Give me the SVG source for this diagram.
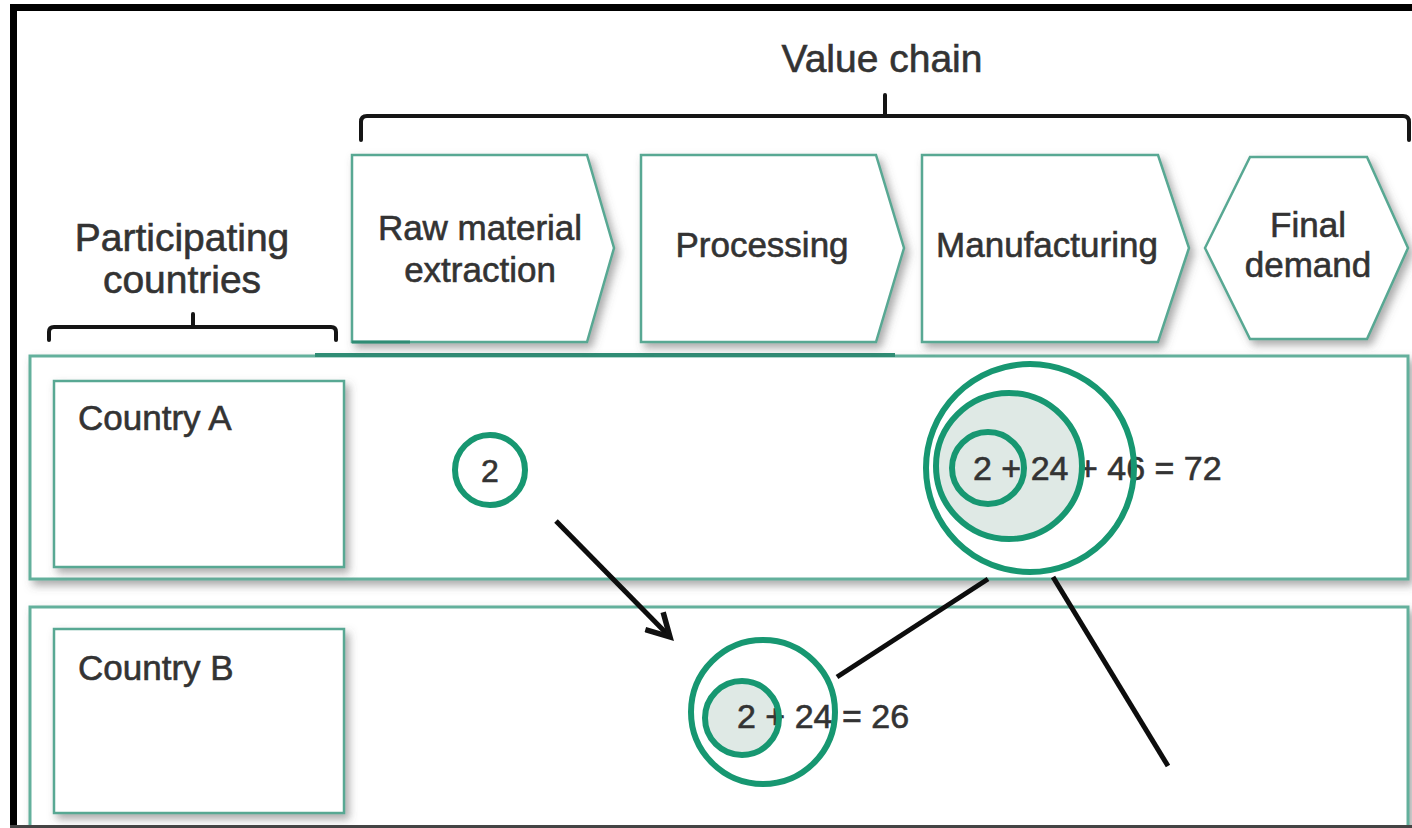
<svg xmlns="http://www.w3.org/2000/svg" width="1412" height="828" viewBox="0 0 1412 828">
  <defs>
    <filter id="shadow" x="-10%" y="-10%" width="125%" height="130%">
      <feDropShadow dx="4" dy="5" stdDeviation="4.5" flood-color="#555" flood-opacity="0.5"/>
    </filter>
    <marker id="arrowOpen" viewBox="0 0 12 12" refX="10" refY="6" markerWidth="6" markerHeight="6" orient="auto" markerUnits="strokeWidth">
      <path d="M1,1 L10,6 L1,11" fill="none" stroke="#111" stroke-width="2.2" stroke-linejoin="miter"/>
    </marker>
  </defs>
  <style>
    .lbl { font-family: "Liberation Sans", Arial, sans-serif; fill: #333333; stroke: #333333; stroke-width: 0.6; }
    .hdr { font-size: 39px; }
    .box { font-size: 35px; }
    .num { font-size: 34px; }
    .shape { fill: #ffffff; stroke: #58a893; stroke-width: 2.5; }
    .row { fill: #ffffff; stroke: #64b09c; stroke-width: 3; }
    .ring { fill: none; stroke: #179771; stroke-width: 6; }
    .core { fill: #dfe9e5; stroke: none; }
    .brace { fill: none; stroke: #151515; stroke-width: 4; stroke-linecap: round; stroke-linejoin: round; }
    .conn { fill: none; stroke: #0d0d0d; stroke-width: 5; }
  </style>

  <rect x="0" y="0" width="1412" height="828" fill="#ffffff"/>

  <!-- rows -->
  <g id="row-a">
    <rect class="row" x="30" y="356" width="1378" height="223" filter="url(#shadow)"/>
    <line x1="315" y1="355" x2="895" y2="355" stroke="#2f8c74" stroke-width="4"/>
  </g>
  <g id="row-b">
    <rect class="row" x="30" y="607" width="1378" height="260" filter="url(#shadow)"/>
  </g>

  <!-- headers -->
  <g id="value-chain-label">
    <text class="lbl hdr" x="882" y="72" text-anchor="middle">Value chain</text>
    <path class="brace" d="M361,140 L361,122 Q361,116 367,116 L1403,116 Q1409,116 1409,122 L1409,140 M885,116 L885,95"/>
  </g>
  <g id="participating-label">
    <text class="lbl hdr" x="182" y="251" text-anchor="middle">Participating</text>
    <text class="lbl hdr" x="182" y="293" text-anchor="middle">countries</text>
    <path class="brace" d="M49,340 L49,332 Q49,327 54,327 L331,327 Q336,327 336,332 L336,340 M193,327 L193,314"/>
  </g>

  <!-- value chain stages -->
  <g id="stage-raw">
    <path class="shape" d="M352,155 L587,155 L614,248 L587,342 L352,342 Z" filter="url(#shadow)"/>
    <line x1="352" y1="342" x2="410" y2="342" stroke="#2f8c74" stroke-width="3"/>
    <text class="lbl box" x="480" y="240" text-anchor="middle">Raw material</text>
    <text class="lbl box" x="480" y="282" text-anchor="middle">extraction</text>
  </g>
  <g id="stage-processing">
    <path class="shape" d="M641,155 L876,155 L904,248 L876,342 L641,342 Z" filter="url(#shadow)"/>
    <text class="lbl box" x="762" y="257" text-anchor="middle">Processing</text>
  </g>
  <g id="stage-manufacturing">
    <path class="shape" d="M922,155 L1158,155 L1189,248 L1158,342 L922,342 Z" filter="url(#shadow)"/>
    <text class="lbl box" x="1047" y="257" text-anchor="middle">Manufacturing</text>
  </g>
  <g id="stage-final">
    <path class="shape" d="M1205,248 L1250,157 L1367,157 L1408,248 L1367,339 L1250,339 Z" filter="url(#shadow)"/>
    <text class="lbl box" x="1308" y="237" text-anchor="middle">Final</text>
    <text class="lbl box" x="1308" y="277" text-anchor="middle">demand</text>
  </g>

  <!-- countries -->
  <g id="country-a">
    <rect class="shape" x="54" y="381" width="290" height="186" filter="url(#shadow)"/>
    <text class="lbl box" x="78" y="430">Country A</text>
  </g>
  <g id="country-b">
    <rect class="shape" x="54" y="629" width="290" height="184" filter="url(#shadow)"/>
    <text class="lbl box" x="78" y="680">Country B</text>
  </g>

  <!-- value nodes -->
  <g id="value-a-raw">
    <circle class="ring" cx="490" cy="470" r="35"/>
    <text class="lbl" x="490" y="482" font-size="32" text-anchor="middle">2</text>
  </g>
  <g id="value-a-manufacturing">
    <circle class="core" cx="1009" cy="466" r="73"/>
    <text class="lbl num" x="973" y="480">2 + 24 + 46 = 72</text>
    <circle class="ring" cx="1030" cy="468" r="104"/>
    <circle class="ring" cx="1009" cy="466" r="73"/>
    <circle class="ring" cx="988" cy="468" r="36"/>
  </g>
  <g id="value-b-processing">
    <circle class="core" cx="742" cy="718" r="37"/>
    <text class="lbl num" x="737" y="728">2 + 24 = 26</text>
    <circle class="ring" cx="763" cy="712" r="72"/>
    <circle class="ring" cx="742" cy="718" r="37"/>
  </g>

  <!-- connectors -->
  <g id="connectors">
    <line class="conn" x1="556" y1="521" x2="670" y2="637" stroke-width="4" marker-end="url(#arrowOpen)"/>
    <line class="conn" x1="837" y1="677" x2="988" y2="579"/>
    <line class="conn" x1="1053" y1="577" x2="1168" y2="766"/>
  </g>

  <!-- frame -->
  <g id="frame">
    <path d="M13.5,830 L13.5,7.5 L1420,7.5" fill="none" stroke="#000" stroke-width="7"/>
    <line x1="10" y1="826.5" x2="1412" y2="826.5" stroke="#444" stroke-width="3"/>
  </g>
</svg>
